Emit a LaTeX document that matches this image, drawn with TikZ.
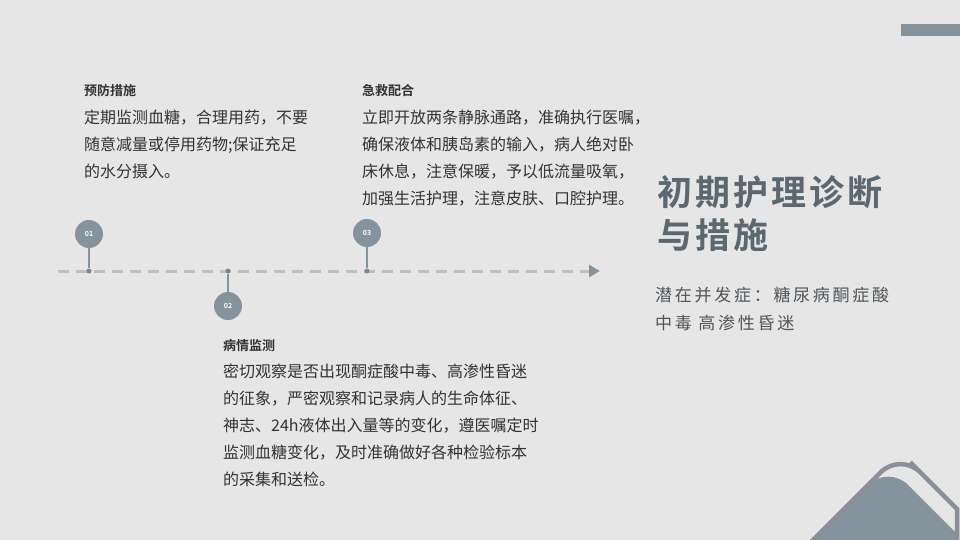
\documentclass[tikz,border=0pt]{standalone}
\usepackage{fontspec}
\setmainfont{Noto Sans CJK SC}
\newfontfamily\bodyfont{Noto Sans CJK SC}
\newfontfamily\boldfont{Noto Sans CJK SC Bold}
\newfontfamily\titlefont{Noto Sans CJK SC Bold}[LetterSpace=8.5]
\newfontfamily\subfont{Noto Sans CJK SC}[LetterSpace=16]
\usetikzlibrary{arrows.meta}
\definecolor{bg}{HTML}{E6E6E6}
\definecolor{slate}{HTML}{85939C}
\definecolor{dotc}{HTML}{7A8790}
\definecolor{outl}{HTML}{8A8F98}
\definecolor{dashc}{HTML}{BFBFBF}
\definecolor{bodyc}{HTML}{333333}
\definecolor{titlec}{HTML}{5C6870}
\definecolor{subc}{HTML}{505559}
\tikzset{
  num/.style={circle, fill=slate, minimum size=28pt, inner sep=0pt, text=white, font=\boldfont\fontsize{7}{8}\selectfont},
  tdot/.style={circle, fill=dotc, minimum size=5pt, inner sep=0pt},
  stem/.style={draw=slate, line width=1.2pt},
  heading/.style={anchor=north west, inner sep=0pt, text=bodyc, font=\boldfont\fontsize{13}{15}\selectfont},
  body/.style={anchor=north west, inner sep=0pt, align=left, text=bodyc, font=\bodyfont\fontsize{16}{27}\selectfont},
  bigtitle/.style={anchor=north west, inner sep=0pt, align=left, text=titlec, font=\titlefont\fontsize{35}{43}\selectfont},
  subtitle/.style={anchor=north west, inner sep=0pt, align=left, text=subc, font=\subfont\fontsize{17}{28}\selectfont}
}
\begin{document}
\begin{tikzpicture}[x=1pt,y=-1pt]
\fill[bg] (0,0) rectangle (960,540);
\useasboundingbox (0,0) rectangle (960,540);
% top right bar
\fill[slate] (901,24) rectangle (960,36);
% timeline
\coordinate (ls) at (58,271);
\coordinate (le) at (600,271);
\draw[dashc, line width=3pt, dash pattern=on 11pt off 7pt, -{Triangle[length=11pt,width=12pt,color=slate]}] (ls) -- (le);
\node[tdot] (d1) at (89,271) {};
\node[tdot] (d2) at (228,271) {};
\node[tdot] (d3) at (367,271) {};
\node[num] (c1) at (89,234) {01};
\node[num] (c2) at (228,306) {02};
\node[num] (c3) at (367,233) {03};
\draw[stem] (c1) -- (d1);
\draw[stem] (c2) -- (d2);
\draw[stem] (c3) -- (d3);
% text blocks
\node[heading] (h1) at (84,84) {预防措施};
\node[body] (b1) at (84,110) {定期监测血糖，合理用药，不要\\随意减量或停用药物;保证充足\\的水分摄入。};
\node[heading] (h3) at (362,84) {急救配合};
\node[body] (b3) at (362,110) {立即开放两条静脉通路，准确执行医嘱，\\确保液体和胰岛素的输入，病人绝对卧\\床休息，注意保暖，予以低流量吸氧，\\加强生活护理，注意皮肤、口腔护理。};
\node[heading] (h2) at (223,339) {病情监测};
\node[body] (b2) at (223,364) {密切观察是否出现酮症酸中毒、高渗性昏迷\\的征象，严密观察和记录病人的生命体征、\\神志、24h液体出入量等的变化，遵医嘱定时\\监测血糖变化，及时准确做好各种检验标本\\的采集和送检。};
% title
\node[bigtitle] (t) at (657,175) {初期护理诊断\\与措施};
\node[subtitle] (s) at (655,286.5) {潜在并发症：糖尿病酮症酸\\中毒 高渗性昏迷};
% mountain
\fill[slate] (813,541) [rounded corners=28pt] -- (888,465) -- (925,502) [sharp corners] -- (957,534) -- (957,541) -- cycle;
\draw[outl, line width=4.5pt] (809,544) [rounded corners=28pt] -- (900.5,452.5) -- (930,482) [sharp corners] -- (957,509) -- (957,545);
\end{tikzpicture}
\end{document}
